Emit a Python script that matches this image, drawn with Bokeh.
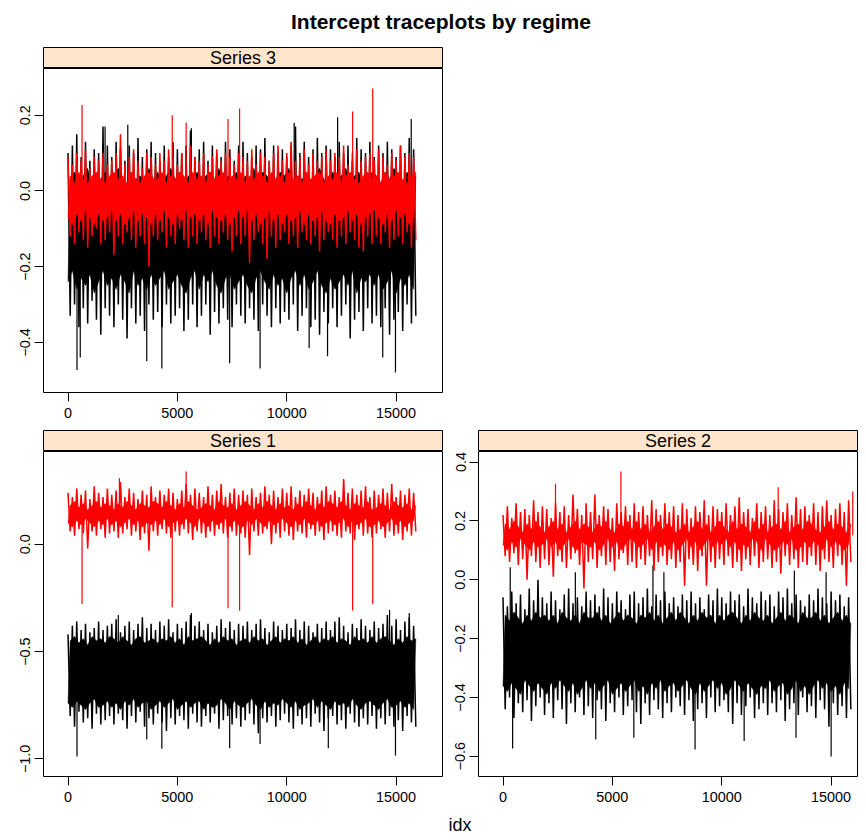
from bokeh.plotting import figure
from bokeh.layouts import column, row
from bokeh.models import Div, Range1d, FixedTicker, CustomJSTickFormatter
from bokeh.core.properties import value
from bokeh.embed import file_html
from bokeh.resources import INLINE

FONT = "Liberation Sans"

n_iter = 16000
x_ticks = [0, 5000, 10000, 15000]
# upper swings are read at every 200th draw, lower swings halfway between
hi_idx = list(range(0, n_iter, 200))
lo_idx = list(range(100, n_iter, 200))
# *_top_gap: where the solid band starts between two upper swings (at lo_idx)
# *_bot_gap: where the solid band ends between two lower swings (at hi_idx)

# ---- Series 3 ----
s3_black_hi = [0.10, 0.12, 0.15, 0.09, 0.13, 0.08, 0.11, 0.10, 0.17, 0.12,
               0.09, 0.13, 0.11, 0.08, 0.12, 0.10, 0.14, 0.09, 0.11, 0.13,
               0.10, 0.08, 0.12, 0.09, 0.13, 0.11, 0.10, 0.12, 0.16, 0.09,
               0.11, 0.13, 0.08, 0.12, 0.10, 0.09, 0.13, 0.11, 0.08, 0.12,
               0.13, 0.10, 0.09, 0.12, 0.11, 0.14, 0.08, 0.12, 0.10, 0.11,
               0.09, 0.12, 0.17, 0.10, 0.13, 0.09, 0.11, 0.14, 0.10, 0.12,
               0.11, 0.09, 0.13, 0.10, 0.12, 0.08, 0.14, 0.11, 0.10, 0.13,
               0.09, 0.12, 0.10, 0.13, 0.11, 0.09, 0.12, 0.10, 0.14, 0.11]
s3_black_lo = [-0.33, -0.30, -0.36, -0.31, -0.35, -0.29, -0.34, -0.38, -0.31, -0.33,
               -0.36, -0.30, -0.34, -0.39, -0.31, -0.35, -0.33, -0.37, -0.30, -0.34,
               -0.32, -0.36, -0.30, -0.35, -0.33, -0.31, -0.37, -0.34, -0.30, -0.36,
               -0.33, -0.30, -0.38, -0.32, -0.35, -0.31, -0.34, -0.36, -0.30, -0.33,
               -0.35, -0.31, -0.34, -0.37, -0.30, -0.33, -0.36, -0.31, -0.35, -0.32,
               -0.34, -0.30, -0.37, -0.33, -0.31, -0.36, -0.34, -0.38, -0.32, -0.35,
               -0.31, -0.36, -0.33, -0.30, -0.39, -0.34, -0.32, -0.37, -0.31, -0.35,
               -0.33, -0.36, -0.31, -0.38, -0.34, -0.32, -0.37, -0.30, -0.35, -0.33]
s3_black_top_gap = [0.03, 0.05, 0.02, 0.04, 0.06, 0.01, 0.04, 0.03, 0.05, 0.02,
                    0.04, 0.06, 0.03, 0.01, 0.05, 0.03, 0.04, 0.02, 0.06, 0.03,
                    0.05, 0.02, 0.04, 0.06, 0.03, 0.05, 0.01, 0.04, 0.03, 0.05,
                    0.02, 0.04, 0.05, 0.03, 0.06, 0.02, 0.04, 0.03, 0.05, 0.01,
                    0.04, 0.03, 0.06, 0.02, 0.05, 0.04, 0.01, 0.03, 0.05, 0.04,
                    0.06, 0.02, 0.04, 0.03, 0.05, 0.01, 0.04, 0.06, 0.03, 0.02,
                    0.05, 0.03, 0.04, 0.06, 0.02, 0.04, 0.05, 0.01, 0.03, 0.05,
                    0.04, 0.02, 0.05, 0.03, 0.06, 0.04, 0.02, 0.05, 0.03, 0.04]
s3_black_bot_gap = [-0.24, -0.21, -0.26, -0.23, -0.25, -0.22, -0.27, -0.24, -0.21, -0.25,
                    -0.23, -0.26, -0.22, -0.24, -0.27, -0.21, -0.25, -0.23, -0.26, -0.22,
                    -0.25, -0.23, -0.21, -0.26, -0.24, -0.22, -0.25, -0.27, -0.23, -0.21,
                    -0.26, -0.22, -0.24, -0.21, -0.25, -0.27, -0.23, -0.22, -0.26, -0.24,
                    -0.22, -0.25, -0.27, -0.23, -0.21, -0.24, -0.26, -0.22, -0.25, -0.23,
                    -0.27, -0.23, -0.21, -0.25, -0.22, -0.26, -0.24, -0.21, -0.25, -0.27,
                    -0.23, -0.26, -0.24, -0.22, -0.25, -0.21, -0.27, -0.23, -0.24, -0.22,
                    -0.25, -0.22, -0.26, -0.24, -0.21, -0.27, -0.23, -0.25, -0.22, -0.26]
s3_black_spike_x = [412, 560, 1695, 2733, 3600, 4290, 5640, 7390, 8780, 10340, 11024, 11865, 12325, 14388, 14970, 15690]
s3_black_spike_y = [-0.473, -0.44, 0.17, 0.175, -0.45, -0.469, 0.166, -0.455, -0.469, 0.18, -0.415, -0.437, 0.195, -0.44, -0.48, 0.19]

s3_red_hi = [0.09, 0.07, 0.10, 0.08, 0.11, 0.06, 0.09, 0.08, 0.10, 0.07,
             0.08, 0.10, 0.15, 0.07, 0.09, 0.11, 0.08, 0.06, 0.10, 0.09,
             0.07, 0.10, 0.08, 0.11, 0.09, 0.07, 0.10, 0.08, 0.12, 0.09,
             0.08, 0.10, 0.07, 0.09, 0.11, 0.08, 0.10, 0.09, 0.07, 0.10,
             0.09, 0.08, 0.11, 0.07, 0.10, 0.09, 0.08, 0.10, 0.12, 0.08,
             0.10, 0.13, 0.08, 0.09, 0.11, 0.07, 0.10, 0.08, 0.09, 0.11,
             0.08, 0.10, 0.09, 0.12, 0.07, 0.10, 0.11, 0.08, 0.09, 0.10,
             0.08, 0.11, 0.09, 0.07, 0.10, 0.08, 0.12, 0.09, 0.10, 0.09]
s3_red_lo = [-0.12, -0.14, -0.11, -0.13, -0.15, -0.12, -0.10, -0.14, -0.13, -0.11,
             -0.17, -0.12, -0.14, -0.11, -0.13, -0.15, -0.12, -0.14, -0.20, -0.12,
             -0.13, -0.11, -0.15, -0.12, -0.14, -0.10, -0.13, -0.15, -0.12, -0.14,
             -0.11, -0.13, -0.15, -0.12, -0.14, -0.11, -0.13, -0.16, -0.12, -0.14,
             -0.12, -0.19, -0.13, -0.11, -0.14, -0.18, -0.12, -0.15, -0.13, -0.11,
             -0.14, -0.12, -0.15, -0.11, -0.13, -0.14, -0.12, -0.16, -0.13, -0.11,
             -0.13, -0.15, -0.12, -0.14, -0.11, -0.13, -0.15, -0.16, -0.12, -0.14,
             -0.12, -0.14, -0.11, -0.15, -0.13, -0.12, -0.14, -0.11, -0.15, -0.13]
s3_red_top_gap = [0.04, 0.02, 0.05, 0.03, 0.02, 0.04, 0.05, 0.03, 0.02, 0.04,
                  0.05, 0.03, 0.04, 0.02, 0.05, 0.03, 0.02, 0.04, 0.05, 0.03,
                  0.03, 0.05, 0.02, 0.04, 0.03, 0.05, 0.04, 0.02, 0.05, 0.03,
                  0.04, 0.02, 0.05, 0.03, 0.04, 0.05, 0.02, 0.04, 0.03, 0.05,
                  0.02, 0.04, 0.03, 0.05, 0.04, 0.02, 0.05, 0.03, 0.04, 0.02,
                  0.05, 0.03, 0.04, 0.02, 0.05, 0.03, 0.04, 0.05, 0.02, 0.04,
                  0.03, 0.05, 0.02, 0.04, 0.05, 0.03, 0.02, 0.04, 0.05, 0.03,
                  0.04, 0.02, 0.05, 0.03, 0.04, 0.05, 0.03, 0.02, 0.04, 0.05]
s3_red_bot_gap = [-0.07, -0.09, -0.06, -0.08, -0.05, -0.07, -0.09, -0.06, -0.08, -0.07,
                  -0.05, -0.08, -0.06, -0.09, -0.07, -0.05, -0.08, -0.06, -0.07, -0.09,
                  -0.06, -0.08, -0.05, -0.07, -0.09, -0.06, -0.08, -0.05, -0.07, -0.06,
                  -0.08, -0.06, -0.09, -0.05, -0.07, -0.08, -0.06, -0.09, -0.07, -0.05,
                  -0.07, -0.05, -0.08, -0.06, -0.09, -0.07, -0.05, -0.08, -0.06, -0.09,
                  -0.06, -0.08, -0.07, -0.05, -0.09, -0.06, -0.08, -0.07, -0.05, -0.08,
                  -0.09, -0.06, -0.08, -0.07, -0.05, -0.08, -0.06, -0.09, -0.07, -0.06,
                  -0.05, -0.07, -0.09, -0.06, -0.08, -0.05, -0.07, -0.06, -0.09, -0.07]
s3_red_spike_x = [641, 4764, 5400, 7315, 7844, 13012, 13930]
s3_red_spike_y = [0.227, 0.20, 0.18, 0.19, 0.218, 0.21, 0.271]

# ---- Series 1 ----
s1_black_hi = [-0.42, -0.38, -0.36, -0.40, -0.37, -0.41, -0.39, -0.36, -0.40, -0.38,
               -0.37, -0.35, -0.41, -0.38, -0.36, -0.40, -0.37, -0.34, -0.39, -0.37,
               -0.40, -0.36, -0.38, -0.35, -0.41, -0.37, -0.39, -0.36, -0.33, -0.38,
               -0.36, -0.40, -0.37, -0.41, -0.38, -0.35, -0.39, -0.36, -0.40, -0.37,
               -0.38, -0.36, -0.40, -0.37, -0.35, -0.39, -0.41, -0.36, -0.38, -0.40,
               -0.37, -0.39, -0.35, -0.40, -0.36, -0.38, -0.41, -0.37, -0.39, -0.36,
               -0.40, -0.36, -0.34, -0.38, -0.41, -0.37, -0.39, -0.35, -0.38, -0.40,
               -0.36, -0.39, -0.37, -0.33, -0.38, -0.35, -0.40, -0.36, -0.34, -0.38]
s1_black_lo = [-0.80, -0.85, -0.78, -0.83, -0.81, -0.86, -0.79, -0.84, -0.82, -0.80,
               -0.84, -0.79, -0.82, -0.86, -0.80, -0.83, -0.78, -0.85, -0.81, -0.84,
               -0.79, -0.83, -0.87, -0.81, -0.84, -0.80, -0.82, -0.86, -0.79, -0.83,
               -0.85, -0.80, -0.83, -0.79, -0.86, -0.82, -0.80, -0.84, -0.81, -0.85,
               -0.82, -0.79, -0.84, -0.88, -0.81, -0.83, -0.80, -0.85, -0.82, -0.79,
               -0.83, -0.86, -0.80, -0.84, -0.81, -0.85, -0.79, -0.83, -0.87, -0.81,
               -0.80, -0.84, -0.82, -0.86, -0.79, -0.83, -0.85, -0.81, -0.84, -0.80,
               -0.86, -0.81, -0.84, -0.80, -0.85, -0.82, -0.87, -0.80, -0.83, -0.85]
s1_black_top_gap = [-0.45, -0.43, -0.46, -0.44, -0.47, -0.43, -0.45, -0.44, -0.46, -0.43,
                    -0.44, -0.46, -0.43, -0.45, -0.47, -0.44, -0.43, -0.46, -0.45, -0.44,
                    -0.46, -0.44, -0.45, -0.43, -0.46, -0.44, -0.47, -0.43, -0.45, -0.44,
                    -0.43, -0.45, -0.47, -0.44, -0.46, -0.43, -0.45, -0.44, -0.47, -0.45,
                    -0.44, -0.46, -0.43, -0.45, -0.44, -0.47, -0.45, -0.43, -0.46, -0.44,
                    -0.45, -0.43, -0.46, -0.44, -0.47, -0.45, -0.43, -0.46, -0.44, -0.45,
                    -0.43, -0.46, -0.44, -0.45, -0.47, -0.43, -0.45, -0.44, -0.46, -0.43,
                    -0.46, -0.44, -0.43, -0.45, -0.47, -0.44, -0.46, -0.43, -0.45, -0.44]
s1_black_bot_gap = [-0.74, -0.76, -0.73, -0.75, -0.77, -0.74, -0.72, -0.76, -0.75, -0.73,
                    -0.76, -0.74, -0.77, -0.73, -0.75, -0.72, -0.76, -0.74, -0.73, -0.77,
                    -0.75, -0.73, -0.76, -0.74, -0.72, -0.77, -0.75, -0.73, -0.76, -0.74,
                    -0.73, -0.77, -0.74, -0.76, -0.75, -0.72, -0.74, -0.77, -0.73, -0.75,
                    -0.76, -0.74, -0.72, -0.75, -0.77, -0.73, -0.76, -0.74, -0.75, -0.72,
                    -0.74, -0.76, -0.73, -0.77, -0.75, -0.74, -0.72, -0.76, -0.73, -0.75,
                    -0.77, -0.73, -0.75, -0.74, -0.76, -0.72, -0.75, -0.77, -0.74, -0.73,
                    -0.75, -0.77, -0.74, -0.72, -0.76, -0.75, -0.73, -0.76, -0.74, -0.77]
s1_black_spike_x = [412, 2300, 3600, 4290, 5640, 7390, 8780, 11900, 14700, 14970, 15600]
s1_black_spike_y = [-0.989, -0.33, -0.91, -0.953, -0.32, -0.95, -0.93, -0.95, -0.306, -0.984, -0.32]

s1_red_hi = [0.24, 0.22, 0.26, 0.23, 0.25, 0.21, 0.27, 0.24, 0.22, 0.26,
             0.23, 0.25, 0.29, 0.22, 0.26, 0.24, 0.21, 0.25, 0.23, 0.27,
             0.22, 0.25, 0.23, 0.26, 0.24, 0.21, 0.25, 0.28, 0.23, 0.26,
             0.24, 0.22, 0.27, 0.23, 0.25, 0.28, 0.22, 0.24, 0.26, 0.23,
             0.25, 0.23, 0.26, 0.22, 0.24, 0.27, 0.23, 0.25, 0.22, 0.26,
             0.24, 0.27, 0.22, 0.25, 0.23, 0.26, 0.24, 0.22, 0.25, 0.27,
             0.23, 0.25, 0.22, 0.30, 0.24, 0.26, 0.23, 0.25, 0.27, 0.22,
             0.25, 0.23, 0.26, 0.24, 0.28, 0.22, 0.25, 0.23, 0.26, 0.24]
s1_red_lo = [0.06, 0.04, 0.07, 0.05, -0.02, 0.06, 0.04, 0.07, 0.03, 0.05,
             0.06, 0.03, 0.05, 0.07, 0.04, 0.06, 0.02, 0.05, -0.03, 0.06,
             0.04, 0.07, 0.05, 0.03, 0.06, 0.04, 0.07, 0.05, 0.02, 0.06,
             0.05, 0.03, 0.06, 0.04, 0.07, 0.05, 0.03, 0.06, 0.04, 0.05,
             0.03, -0.05, 0.06, 0.04, 0.05, 0.07, 0.00, 0.05, 0.03, 0.06,
             0.04, 0.02, 0.06, 0.05, 0.03, 0.07, 0.04, 0.06, 0.02, 0.05,
             0.06, 0.04, 0.03, 0.06, 0.05, 0.02, 0.07, 0.04, 0.05, 0.03,
             0.05, 0.07, 0.03, 0.06, 0.04, 0.05, 0.02, 0.06, 0.04, 0.06]
s1_red_top_gap = [0.18, 0.20, 0.17, 0.19, 0.16, 0.18, 0.20, 0.17, 0.19, 0.18,
                  0.16, 0.19, 0.17, 0.20, 0.18, 0.16, 0.19, 0.18, 0.17, 0.20,
                  0.19, 0.17, 0.20, 0.18, 0.16, 0.19, 0.17, 0.20, 0.18, 0.16,
                  0.17, 0.19, 0.18, 0.16, 0.20, 0.18, 0.17, 0.19, 0.16, 0.18,
                  0.20, 0.18, 0.16, 0.19, 0.17, 0.20, 0.18, 0.16, 0.19, 0.17,
                  0.18, 0.16, 0.19, 0.17, 0.20, 0.18, 0.16, 0.19, 0.17, 0.20,
                  0.19, 0.17, 0.20, 0.18, 0.16, 0.19, 0.18, 0.17, 0.20, 0.16,
                  0.17, 0.19, 0.18, 0.16, 0.20, 0.18, 0.17, 0.19, 0.16, 0.18]
s1_red_bot_gap = [0.10, 0.08, 0.11, 0.09, 0.12, 0.10, 0.08, 0.11, 0.09, 0.12,
                  0.09, 0.11, 0.08, 0.10, 0.12, 0.09, 0.11, 0.08, 0.10, 0.09,
                  0.11, 0.09, 0.12, 0.08, 0.10, 0.11, 0.09, 0.12, 0.10, 0.08,
                  0.12, 0.10, 0.08, 0.11, 0.09, 0.10, 0.12, 0.08, 0.11, 0.09,
                  0.08, 0.11, 0.09, 0.12, 0.10, 0.08, 0.11, 0.09, 0.10, 0.12,
                  0.10, 0.08, 0.11, 0.09, 0.12, 0.10, 0.09, 0.11, 0.08, 0.10,
                  0.11, 0.09, 0.10, 0.12, 0.08, 0.11, 0.09, 0.10, 0.12, 0.08,
                  0.09, 0.11, 0.08, 0.10, 0.12, 0.09, 0.11, 0.08, 0.10, 0.11]
s1_red_spike_x = [641, 2350, 4764, 5400, 7315, 7844, 12600, 13012, 13930]
s1_red_spike_y = [-0.278, 0.307, -0.293, 0.339, -0.298, -0.31, 0.304, -0.309, -0.278]

# ---- Series 2 ----
s2_black_hi = [-0.06, -0.09, -0.04, -0.08, -0.05, -0.10, -0.03, -0.07, 0.00, -0.06,
               -0.08, -0.04, -0.07, -0.10, -0.05, -0.03, -0.08, -0.06, -0.09, -0.04,
               -0.07, -0.05, -0.09, -0.03, -0.06, -0.08, -0.04, -0.07, -0.10, -0.05,
               -0.04, -0.08, -0.06, -0.03, -0.09, -0.05, -0.07, -0.04, -0.08, -0.06,
               -0.09, -0.05, -0.07, -0.04, -0.08, -0.06, -0.10, -0.05, -0.07, -0.03,
               -0.06, -0.08, -0.04, -0.07, -0.05, -0.09, -0.03, -0.06, -0.08, -0.04,
               -0.07, -0.05, -0.09, -0.04, -0.06, -0.03, -0.08, -0.05, -0.07, -0.09,
               -0.05, -0.07, -0.03, -0.06, -0.08, -0.04, -0.07, -0.05, -0.09, -0.06]
s2_black_lo = [-0.44, -0.40, -0.47, -0.42, -0.45, -0.41, -0.48, -0.43, -0.40, -0.46,
               -0.42, -0.47, -0.41, -0.44, -0.49, -0.42, -0.45, -0.40, -0.46, -0.43,
               -0.47, -0.41, -0.44, -0.48, -0.42, -0.45, -0.40, -0.46, -0.43, -0.41,
               -0.45, -0.49, -0.42, -0.46, -0.41, -0.44, -0.47, -0.42, -0.45, -0.40,
               -0.43, -0.46, -0.41, -0.48, -0.44, -0.42, -0.47, -0.40, -0.45, -0.43,
               -0.41, -0.45, -0.49, -0.42, -0.46, -0.43, -0.40, -0.47, -0.44, -0.42,
               -0.46, -0.42, -0.45, -0.41, -0.48, -0.44, -0.42, -0.46, -0.40, -0.45,
               -0.43, -0.47, -0.41, -0.44, -0.50, -0.42, -0.46, -0.43, -0.47, -0.44]
s2_black_top_gap = [-0.12, -0.14, -0.11, -0.13, -0.15, -0.12, -0.14, -0.11, -0.13, -0.12,
                    -0.14, -0.12, -0.15, -0.11, -0.13, -0.14, -0.12, -0.15, -0.11, -0.13,
                    -0.13, -0.11, -0.14, -0.12, -0.15, -0.13, -0.11, -0.14, -0.12, -0.13,
                    -0.15, -0.12, -0.13, -0.11, -0.14, -0.12, -0.15, -0.13, -0.11, -0.14,
                    -0.11, -0.13, -0.15, -0.12, -0.14, -0.11, -0.13, -0.12, -0.15, -0.12,
                    -0.14, -0.12, -0.11, -0.13, -0.15, -0.12, -0.14, -0.11, -0.13, -0.14,
                    -0.12, -0.15, -0.13, -0.11, -0.14, -0.12, -0.13, -0.15, -0.11, -0.13,
                    -0.13, -0.11, -0.14, -0.12, -0.15, -0.13, -0.11, -0.14, -0.12, -0.15]
s2_black_bot_gap = [-0.36, -0.38, -0.35, -0.37, -0.39, -0.34, -0.36, -0.38, -0.35, -0.37,
                    -0.39, -0.35, -0.37, -0.34, -0.36, -0.38, -0.35, -0.39, -0.37, -0.34,
                    -0.37, -0.35, -0.38, -0.36, -0.34, -0.39, -0.37, -0.35, -0.38, -0.36,
                    -0.34, -0.38, -0.36, -0.39, -0.35, -0.37, -0.34, -0.38, -0.36, -0.35,
                    -0.38, -0.36, -0.34, -0.37, -0.39, -0.35, -0.38, -0.36, -0.34, -0.37,
                    -0.35, -0.39, -0.37, -0.34, -0.36, -0.38, -0.35, -0.37, -0.39, -0.36,
                    -0.37, -0.34, -0.38, -0.36, -0.35, -0.39, -0.37, -0.34, -0.38, -0.36,
                    -0.39, -0.36, -0.34, -0.37, -0.35, -0.38, -0.36, -0.39, -0.35, -0.37]
s2_black_spike_x = [330, 440, 3307, 4240, 5980, 6855, 7355, 8780, 11024, 13318, 13394, 14770, 15000]
s2_black_spike_y = [0.042, -0.574, 0.025, -0.543, -0.537, 0.048, 0.025, -0.577, -0.548, 0.031, -0.537, 0.025, -0.601]

s2_red_hi = [0.22, 0.25, 0.21, 0.26, 0.23, 0.24, 0.22, 0.27, 0.23, 0.25,
             0.24, 0.21, 0.26, 0.23, 0.25, 0.22, 0.29, 0.24, 0.22, 0.26,
             0.23, 0.29, 0.22, 0.25, 0.24, 0.21, 0.26, 0.23, 0.25, 0.22,
             0.26, 0.23, 0.25, 0.22, 0.27, 0.24, 0.22, 0.26, 0.23, 0.25,
             0.22, 0.26, 0.24, 0.21, 0.25, 0.23, 0.27, 0.22, 0.25, 0.24,
             0.23, 0.26, 0.22, 0.25, 0.28, 0.23, 0.24, 0.21, 0.26, 0.23,
             0.25, 0.22, 0.27, 0.24, 0.23, 0.26, 0.22, 0.28, 0.24, 0.25,
             0.22, 0.26, 0.23, 0.25, 0.27, 0.22, 0.24, 0.26, 0.23, 0.27]
s2_red_lo = [0.08, 0.06, 0.09, 0.05, 0.07, 0.00, 0.08, 0.06, 0.04, 0.07,
             0.05, 0.01, 0.08, 0.06, 0.04, 0.07, 0.09, 0.05, -0.03, 0.06,
             0.07, 0.04, 0.08, 0.05, 0.06, 0.03, 0.07, 0.09, 0.05, 0.06,
             0.04, 0.07, 0.05, 0.08, 0.03, 0.06, 0.08, 0.05, 0.07, 0.04,
             0.06, -0.02, 0.07, 0.05, 0.03, 0.08, -0.02, 0.06, 0.04, 0.07,
             0.05, 0.08, 0.04, 0.06, 0.03, 0.07, 0.05, 0.08, 0.04, 0.06,
             0.07, 0.04, 0.06, 0.02, 0.08, 0.05, 0.07, 0.04, 0.06, 0.05,
             0.08, 0.05, 0.03, 0.07, 0.06, 0.04, 0.08, 0.05, -0.02, 0.06]
s2_red_top_gap = [0.19, 0.17, 0.20, 0.18, 0.16, 0.19, 0.17, 0.20, 0.18, 0.16,
                  0.18, 0.20, 0.17, 0.19, 0.16, 0.18, 0.20, 0.17, 0.19, 0.18,
                  0.16, 0.19, 0.18, 0.20, 0.17, 0.16, 0.19, 0.18, 0.20, 0.17,
                  0.20, 0.17, 0.19, 0.16, 0.18, 0.20, 0.17, 0.19, 0.18, 0.16,
                  0.17, 0.19, 0.16, 0.18, 0.20, 0.17, 0.19, 0.16, 0.18, 0.20,
                  0.18, 0.16, 0.20, 0.17, 0.19, 0.18, 0.16, 0.20, 0.17, 0.19,
                  0.16, 0.18, 0.19, 0.17, 0.20, 0.16, 0.18, 0.19, 0.17, 0.20,
                  0.19, 0.17, 0.16, 0.18, 0.20, 0.17, 0.19, 0.18, 0.16, 0.19]
s2_red_bot_gap = [0.12, 0.10, 0.13, 0.11, 0.14, 0.12, 0.10, 0.13, 0.11, 0.12,
                  0.14, 0.11, 0.13, 0.10, 0.12, 0.14, 0.11, 0.10, 0.13, 0.12,
                  0.11, 0.13, 0.10, 0.12, 0.14, 0.11, 0.13, 0.10, 0.12, 0.14,
                  0.13, 0.11, 0.12, 0.14, 0.10, 0.13, 0.11, 0.12, 0.10, 0.13,
                  0.10, 0.12, 0.14, 0.11, 0.13, 0.10, 0.12, 0.14, 0.11, 0.13,
                  0.12, 0.14, 0.11, 0.13, 0.10, 0.12, 0.11, 0.14, 0.13, 0.10,
                  0.14, 0.12, 0.10, 0.11, 0.13, 0.12, 0.14, 0.10, 0.11, 0.13,
                  0.11, 0.13, 0.12, 0.10, 0.14, 0.11, 0.13, 0.12, 0.10, 0.12]
s2_red_spike_x = [2400, 5390, 12580, 15990]
s2_red_spike_y = [0.326, 0.368, 0.314, 0.30]

s3_y_ticks = [-0.4, -0.2, 0.0, 0.2]
s1_y_ticks = [-1.0, -0.5, 0.0]
s2_y_ticks = [-0.6, -0.4, -0.2, 0.0, 0.2, 0.4]

STRIP_BG = "#FFE5CC"
COLORS = {"black": "#000000", "red": "#FF0000"}

# lattice pads every axis by 7% of the data range
PAD = 0.07
x_lo, x_hi = 0 - PAD * n_iter, n_iter + PAD * n_iter

LEFT_W, RIGHT_W = 443, 415
LEFT_BL, RIGHT_BL, BORDER_R = 43, 35, 1


def padded(values):
    lo, hi = min(values), max(values)
    return lo - PAD * (hi - lo), hi + PAD * (hi - lo)


def trace_xy(hi, lo):
    xs, ys = [], []
    for xh, yh, xl, yl in zip(hi_idx, hi, lo_idx, lo):
        xs += [xh, xl]
        ys += [yh, yl]
    return xs, ys


def draw_chain(p, ch):
    color = COLORS[ch["color"]]
    # solid body of the chain: ragged top between upper swings, ragged bottom between lower swings
    p.patch(x=lo_idx + hi_idx[::-1], y=ch["top_gap"] + ch["bot_gap"][::-1],
            fill_color=color, line_color=color, line_width=0.5)
    xs, ys = trace_xy(ch["hi"], ch["lo"])
    p.line(xs, ys, line_color=color, line_width=1.5, line_join="bevel")
    mid = (min(ch["top_gap"]) + max(ch["bot_gap"])) / 2
    p.segment(x0=ch["sx"], y0=[mid] * len(ch["sx"]), x1=ch["sx"], y1=ch["sy"],
              line_color=color, line_width=1.2)


def strip(name, x_range, width, border_left):
    s = figure(width=width, height=22, x_range=x_range, y_range=Range1d(0, 1),
               output_backend="svg", toolbar_location=None,
               x_axis_location=None, y_axis_location=None,
               min_border_left=border_left, min_border_right=BORDER_R,
               min_border_top=1, min_border_bottom=0)
    s.grid.visible = False
    s.background_fill_color = STRIP_BG
    s.border_fill_color = "white"
    s.outline_line_color = "black"
    s.outline_line_width = 1
    s.text(x=[(0 + n_iter) / 2], y=[0.5], text=[name], text_font=value(FONT),
           text_font_size="18px", text_align="center", text_baseline="middle",
           text_color="black")
    return s


def panel(chains, x_range, y_ticks, width, border_left, height, bottom):
    allv = []
    for ch in chains:
        allv += ch["hi"] + ch["lo"] + ch["sy"]
    y0, y1 = padded(allv)
    p = figure(width=width, height=height, x_range=x_range, y_range=Range1d(y0, y1),
               output_backend="svg", toolbar_location=None,
               min_border_left=border_left, min_border_right=BORDER_R,
               min_border_top=0, min_border_bottom=bottom)
    p.grid.visible = False
    p.outline_line_color = "black"
    p.outline_line_width = 1
    for ax in (p.xaxis[0], p.yaxis[0]):
        ax.axis_line_color = None
        ax.major_tick_out = 9
        ax.major_tick_in = 0
        ax.minor_tick_line_color = None
        ax.major_tick_line_color = "black"
        ax.major_label_text_font = FONT
        ax.major_label_text_font_size = "14.4px"
        ax.major_label_text_color = "black"
    p.xaxis.ticker = FixedTicker(ticks=x_ticks)
    p.xaxis.major_label_standoff = 6
    p.yaxis.ticker = FixedTicker(ticks=y_ticks)
    p.yaxis.major_label_orientation = "vertical"
    p.yaxis.major_label_standoff = 4
    p.yaxis.formatter = CustomJSTickFormatter(
        code="return tick.toFixed(1).replace('-', '\\u2212');")
    for ch in chains:
        draw_chain(p, ch)
    return p


def chain(hi, lo, top_gap, bot_gap, sx, sy, color):
    return dict(hi=hi, lo=lo, top_gap=top_gap, bot_gap=bot_gap, sx=sx, sy=sy, color=color)


xr_left = Range1d(x_lo, x_hi)
frame_left = LEFT_W - LEFT_BL - BORDER_R
frame_right = RIGHT_W - RIGHT_BL - BORDER_R
xr_right = Range1d(x_lo, x_lo + (x_hi - x_lo) * frame_right / frame_left)

s3 = [chain(s3_black_hi, s3_black_lo, s3_black_top_gap, s3_black_bot_gap, s3_black_spike_x, s3_black_spike_y, "black"),
      chain(s3_red_hi, s3_red_lo, s3_red_top_gap, s3_red_bot_gap, s3_red_spike_x, s3_red_spike_y, "red")]
s1 = [chain(s1_black_hi, s1_black_lo, s1_black_top_gap, s1_black_bot_gap, s1_black_spike_x, s1_black_spike_y, "black"),
      chain(s1_red_hi, s1_red_lo, s1_red_top_gap, s1_red_bot_gap, s1_red_spike_x, s1_red_spike_y, "red")]
s2 = [chain(s2_black_hi, s2_black_lo, s2_black_top_gap, s2_black_bot_gap, s2_black_spike_x, s2_black_spike_y, "black"),
      chain(s2_red_hi, s2_red_lo, s2_red_top_gap, s2_red_bot_gap, s2_red_spike_x, s2_red_spike_y, "red")]

p3 = panel(s3, xr_left, s3_y_ticks, LEFT_W, LEFT_BL, 361, 37)
p1 = panel(s1, xr_left, s1_y_ticks, LEFT_W, LEFT_BL, 359, 34)
p2 = panel(s2, xr_right, s2_y_ticks, RIGHT_W, RIGHT_BL, 359, 34)

title = Div(text="Intercept traceplots by regime", width=LEFT_W + RIGHT_W, height=46, margin=0,
            styles={"font-family": FONT, "font-weight": "bold", "font-size": "21px",
                    "line-height": "44px", "text-align": "center", "text-indent": "24px",
                    "color": "black"})
xlab = Div(text="idx", width=LEFT_W + RIGHT_W, height=22, margin=0,
           styles={"font-family": FONT, "font-size": "18px", "line-height": "30px",
                   "text-align": "center", "text-indent": "62px", "color": "black"})

layout = column(
    title,
    row(strip("Series 3", xr_left, LEFT_W, LEFT_BL)),
    row(p3),
    row(strip("Series 1", xr_left, LEFT_W, LEFT_BL), strip("Series 2", xr_right, RIGHT_W, RIGHT_BL)),
    row(p1, p2),
    xlab,
)

open("out.html", "w").write(file_html(layout, INLINE))
